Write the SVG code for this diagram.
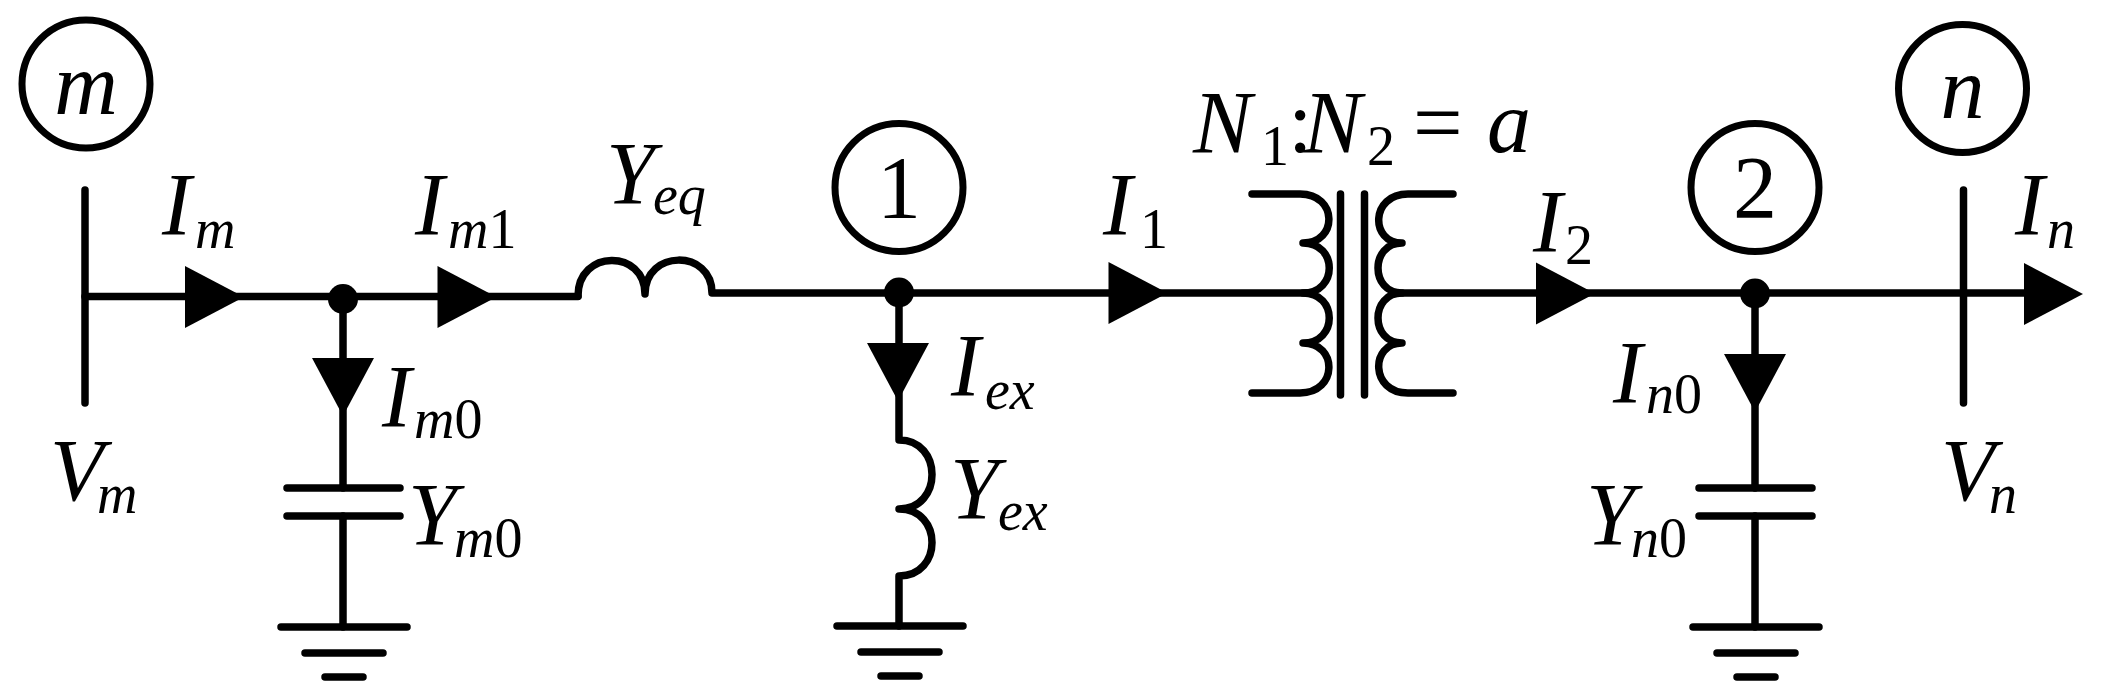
<svg xmlns="http://www.w3.org/2000/svg" width="2104" height="697" viewBox="0 0 2104 697" font-family="'Liberation Serif', serif">
<style>
.w{fill:none;stroke:#000;stroke-width:7.500;stroke-linecap:round;stroke-linejoin:round}
.c{fill:#fff;stroke:#000;stroke-width:7}
.f{fill:#000}
text{font-family:'Liberation Serif',serif;font-size:88px;fill:#000}
.i{font-style:italic}
.s{font-size:56px}
.u{font-style:normal}
</style>
<defs>
<polygon id="ar" class="f" points="0,-31 59,0 0,31"/>
<polygon id="ad" class="f" points="-31,0 31,0 0,58"/>
<g id="gnd" class="w"><path d="M-62,0H64M-38,26H40M-18,50H20"/></g>
</defs>
<rect width="2104" height="697" fill="#fff"/>
<g id="connectors">
<path class="w" d="M85,296.500H578"/>
<path class="w" d="M578,296 C578,249 645,249 645,294 C645,249 712,249 712,293H1307"/>
<path class="w" d="M343,299V488M343,516V627"/>
<path class="w" d="M899,293V440 C943,440 943,509 899,509 C943,509 943,576 899,576V626"/>
<path class="w" d="M1755,293V488M1755,516V627"/>
<path class="w" d="M1402,293H2024"/>
<use href="#ar" x="185" y="297"/>
<use href="#ar" x="437.500" y="297"/>
<use href="#ar" x="1108.500" y="293"/>
<use href="#ar" x="1536" y="293.500"/>
<use href="#ar" x="2024" y="294"/>
<use href="#ad" x="343" y="358"/>
<use href="#ad" x="898" y="343"/>
<use href="#ad" x="1755" y="354"/>
</g>
<g id="bus-m"><path class="w" d="M85,190V403"/><text class="i" x="50" y="500">V<tspan class="s" x="97" y="512.500">m</tspan></text></g>
<g id="node-m"><circle class="c" cx="86" cy="84" r="64"/><text class="i" x="86" y="114" text-anchor="middle">m</text></g>
<g id="label-Im"><text class="i" x="162" y="234">I<tspan class="s" x="195" y="248">m</tspan></text></g>
<g id="junction-m"><circle class="f" cx="343" cy="299" r="15"/></g>
<g id="label-Im1"><text class="i" x="415" y="234">I<tspan class="s" x="448" y="248">m<tspan class="u">1</tspan></tspan></text></g>
<g id="Yeq"><text class="i" x="606" y="203">Y<tspan class="s" x="653" y="214">eq</tspan></text></g>
<g id="Im0"><text class="i" x="382" y="426">I<tspan class="s" x="414" y="438">m<tspan class="u">0</tspan></tspan></text></g>
<g id="Ym0"><path class="w" d="M287,488H400M287,516H400"/><text class="i" x="408" y="544">Y<tspan class="s" x="454" y="557">m<tspan class="u">0</tspan></tspan></text></g>
<use id="gnd-m" href="#gnd" x="343" y="627"/>
<g id="node-1"><circle class="c" cx="899" cy="187.500" r="64"/><text x="899" y="217" text-anchor="middle">1</text></g>
<g id="junction-1"><circle class="f" cx="899" cy="292.500" r="15"/></g>
<g id="I1"><text class="i" x="1103" y="234">I<tspan class="s u" x="1140" y="248">1</tspan></text></g>
<g id="Iex"><text class="i" x="951" y="395">I<tspan class="s" x="985" y="408.500">ex</tspan></text></g>
<g id="Yex"><text class="i" x="950" y="518">Y<tspan class="s" x="998" y="530">ex</tspan></text></g>
<use id="gnd-1" href="#gnd" x="899" y="626"/>
<g id="transformer">
<path class="w" d="M1252,194H1300 C1338,194 1338,243 1303,243 C1338,243 1338,293 1303,293 C1338,293 1338,343 1303,343 C1338,343 1338,393 1300,393H1252"/>
<path class="w" d="M1340.500,194V395M1364.500,194V395"/>
<path class="w" d="M1453,194H1408 C1370,194 1370,243 1402,243 C1370,243 1370,293 1402,293 C1370,293 1370,343 1402,343 C1370,343 1370,393 1408,393H1453"/>
<text x="1193" y="152"><tspan class="i">N</tspan><tspan class="s" x="1261" y="165">1</tspan><tspan x="1288" y="152">:</tspan><tspan class="i" x="1303">N</tspan><tspan class="s" x="1367" y="165">2</tspan><tspan x="1413" y="152">=</tspan><tspan class="i" x="1487">a</tspan></text>
</g>
<g id="I2"><text class="i" x="1533" y="251">I<tspan class="s u" x="1565" y="264">2</tspan></text></g>
<g id="node-2"><circle class="c" cx="1755" cy="187.500" r="64"/><text x="1755" y="217" text-anchor="middle">2</text></g>
<g id="junction-2"><circle class="f" cx="1755" cy="293.500" r="15"/></g>
<g id="In0"><text class="i" x="1613" y="402">I<tspan class="s" x="1646" y="413">n<tspan class="u">0</tspan></tspan></text></g>
<g id="Yn0"><path class="w" d="M1699,488H1812M1699,516H1812"/><text class="i" x="1586" y="544">Y<tspan class="s" x="1631" y="557">n<tspan class="u">0</tspan></tspan></text></g>
<use id="gnd-2" href="#gnd" x="1755" y="627"/>
<g id="bus-n"><path class="w" d="M1963.500,190V403"/><text class="i" x="1941" y="500">V<tspan class="s" x="1989" y="512.500">n</tspan></text></g>
<g id="node-n"><circle class="c" cx="1962.500" cy="88.500" r="64"/><text class="i" x="1962.500" y="118" text-anchor="middle">n</text></g>
<g id="In"><text class="i" x="2015" y="234">I<tspan class="s" x="2047" y="248">n</tspan></text></g>
</svg>
